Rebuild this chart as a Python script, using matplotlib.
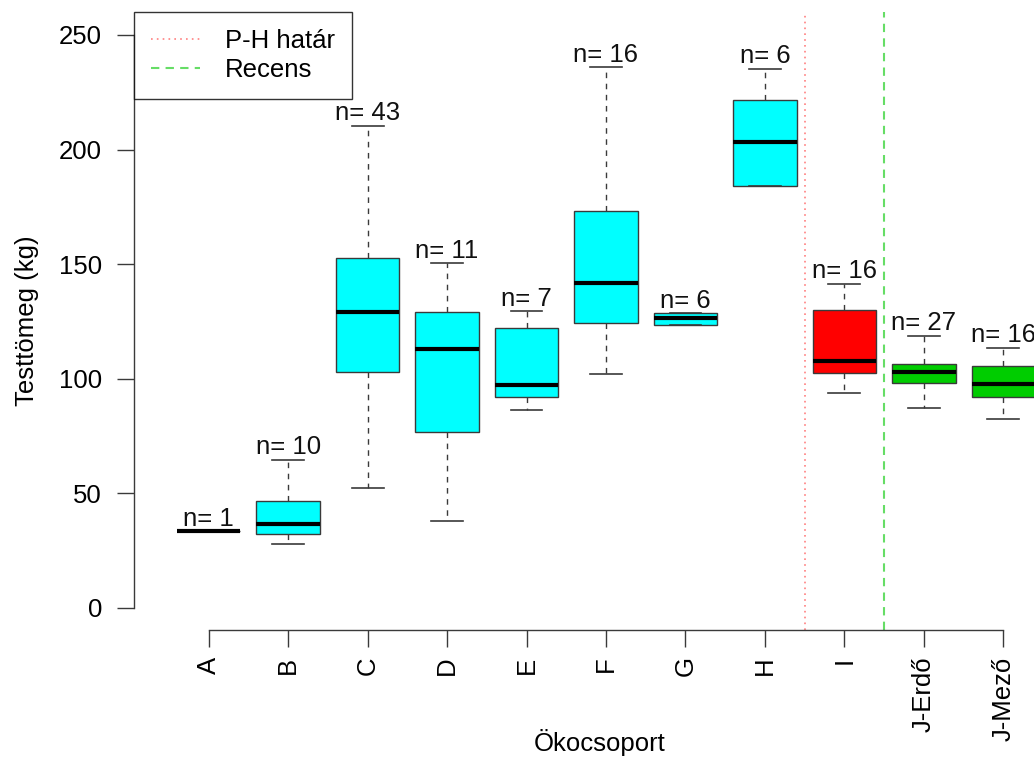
import matplotlib
matplotlib.use('Agg')
import matplotlib.pyplot as plt
from matplotlib.lines import Line2D

plt.rcParams['font.family'] = ['Liberation Sans', 'DejaVu Sans']

# group names, sample sizes and box statistics (kg)
groups = ['A', 'B', 'C', 'D', 'E', 'F', 'G', 'H', 'I', 'J-Erdő', 'J-Mező']
n_obs = [1, 10, 43, 11, 7, 16, 6, 6, 16, 27, 16]
whislo = [33.5, 27.9, 52.2, 38.0, 86.4, 102.1, 123.3, 184.3, 93.7, 87.1, 82.6]
q1 = [33.5, 32.3, 102.8, 76.8, 92.2, 124.2, 123.3, 184.3, 102.7, 98.3, 91.9]
med = [33.5, 36.8, 129.3, 113.1, 97.3, 141.9, 126.7, 203.2, 107.6, 103.1, 97.9]
q3 = [33.5, 46.7, 152.6, 129.3, 122.3, 173.3, 128.6, 221.6, 130.0, 106.6, 105.6]
whishi = [33.5, 64.6, 210.3, 150.4, 129.4, 235.9, 128.6, 235.2, 141.4, 118.8, 113.6]
box_colors = ['cyan'] * 8 + ['red', '#00cd00', '#00cd00']

ph_border = 8.5
recent_border = 9.5

fs = 18.5
edge = '#3a3a3a'

fig = plt.figure(figsize=(10.34, 7.57), dpi=100)
W, H = 1034, 757
# plot region runs past the right edge of the figure
ax = fig.add_axes([134 / W, (H - 630) / H, (1078 - 134) / W, (630 - 12) / H])

stats = []
for i in range(len(groups)):
    stats.append({'whislo': whislo[i], 'q1': q1[i], 'med': med[i],
                  'q3': q3[i], 'whishi': whishi[i], 'fliers': []})

pos = list(range(1, len(groups) + 1))
bp = ax.bxp(stats, positions=pos, widths=0.8, patch_artist=True,
            showfliers=False,
            boxprops=dict(edgecolor=edge, linewidth=1.0),
            medianprops=dict(color='black', linewidth=3, solid_capstyle='butt'),
            whiskerprops=dict(color=edge, linewidth=1.0, linestyle=(0, (4, 4))),
            capprops=dict(color=edge, linewidth=1.2),
            capwidths=0.4)
for patch, c in zip(bp['boxes'], box_colors):
    patch.set_facecolor(c)

# sample size above each upper whisker
for x, top, n in zip(pos, whishi, n_obs):
    ax.annotate('n= %d' % n, (x, top), xytext=(0, 9), textcoords='offset points',
                ha='center', va='center', fontsize=fs, color='#111111')

ax.axvline(ph_border, color='#ff8080', linestyle=(0, (1, 2.5)), linewidth=1.2)
ax.axvline(recent_border, color='#66dd66', linestyle=(0, (4, 3)), linewidth=1.5)

ax.set_xlim(0.06, 11.94)
ax.set_ylim(-9.6, 260)

ax.set_xticks(pos)
ax.set_xticklabels(groups, rotation=90)
ax.set_yticks([0, 50, 100, 150, 200, 250])
ax.tick_params(axis='both', labelsize=fs, length=12, width=1, color=edge)
ax.tick_params(axis='x', pad=7)
ax.tick_params(axis='y', pad=11)

for s in ['top', 'right']:
    ax.spines[s].set_visible(False)
ax.spines['left'].set_bounds(0, 250)
ax.spines['bottom'].set_bounds(1, 11)
for s in ['left', 'bottom']:
    ax.spines[s].set_color(edge)
    ax.spines[s].set_linewidth(1.0)

ax.set_ylabel('Testtömeg (kg)', fontsize=fs, labelpad=14)
fig.text(600 / W, 1 - 743 / H, 'Ökocsoport', fontsize=fs, ha='center', va='center')

handles = [Line2D([], [], color='#ff8080', linestyle=(0, (1, 2.5)), linewidth=1.2),
           Line2D([], [], color='#66dd66', linestyle=(0, (4, 3)), linewidth=1.5)]
leg = ax.legend(handles, ['P-H határ', 'Recens'], loc='upper left',
                bbox_to_anchor=(0, 1), borderaxespad=0, fancybox=False,
                fontsize=fs, handlelength=1.9, handletextpad=1.0,
                labelspacing=0.2, borderpad=0.65)
leg.get_frame().set_edgecolor('black')
leg.get_frame().set_linewidth(1.0)

fig.savefig('out.png', dpi=100)
